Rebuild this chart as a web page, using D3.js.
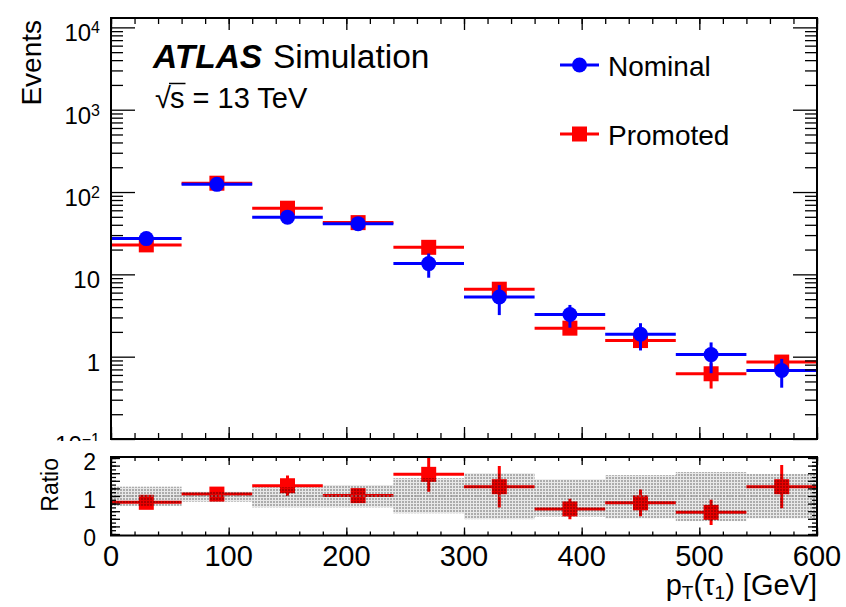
<!DOCTYPE html>
<html><head><meta charset="utf-8">
<script src="https://cdn.jsdelivr.net/npm/d3@7"></script>
<style>body{margin:0;background:#fff}text{font-family:"Liberation Sans",Arial,Helvetica,sans-serif;fill:#000}</style>
</head><body><svg id="c" width="846" height="607"></svg>
<script>
// ---------- data ----------
const binCenters = [30, 90, 150, 210, 270, 330, 390, 450, 510, 570];
const binHalfWidth = [30, 30, 30, 30, 30, 30, 30, 30, 30, 30];
const nominal    = [27.2, 124, 49.5, 41.3, 13.5, 5.3, 3.25, 1.87, 1.06, 0.68];
const nominalErr = [2.0, 6.0, 3.5, 3.5, 4.4, 2.1, 1.0, 0.68, 0.43, 0.26];
const promoted    = [22.8, 128, 63.6, 42.5, 21.3, 6.6, 2.22, 1.57, 0.62, 0.86];
const promotedErr = [1.5, 5.0, 4.0, 3.0, 2.0, 0.8, 0.2, 0.25, 0.21, 0.1];
const ratio    = [0.834, 1.05, 1.27, 1.01, 1.57, 1.245, 0.66, 0.82, 0.57, 1.245];
const ratioErr = [0.10, 0.05, 0.27, 0.12, 0.46, 0.545, 0.27, 0.35, 0.33, 0.57];
const bandLow  = [0.74, 0.85, 0.70, 0.70, 0.545, 0.39, 0.455, 0.41, 0.34, 0.41];
const bandHigh = [1.245, 1.11, 1.23, 1.29, 1.47, 1.60, 1.44, 1.55, 1.63, 1.58];
const xTickValues = [0, 100, 200, 300, 400, 500, 600];
const xTickLabels = ["0", "100", "200", "300", "400", "500", "600"];
const yMainTicks = [0.1, 1, 10, 100, 1000, 10000];
const yMainTickLabels = [["10", "\u22121"], ["1", ""], ["10", ""], ["10", "2"], ["10", "3"], ["10", "4"]];
const yRatioTicks = [0, 1, 2];
const yRatioTickLabels = ["0", "1", "2"];
const legendLabels = ["Nominal", "Promoted"];

// ---------- layout ----------
const mx0 = 111, mx1 = 817, myTop = 18, myBot = 439;
const ry0 = 457, ry1 = 535.5;
const RED = "#ff0000", BLUE = "#0000ff";

const svg = d3.select("#c");
svg.append("rect").attr("width", 846).attr("height", 607).attr("fill", "#fff");
const defs = svg.append("defs");
defs.append("clipPath").attr("id", "clipMain").append("rect")
  .attr("x", mx0).attr("y", myTop).attr("width", mx1 - mx0).attr("height", myBot - myTop);
defs.append("clipPath").attr("id", "clipRatio").append("rect")
  .attr("x", mx0).attr("y", ry0).attr("width", mx1 - mx0).attr("height", ry1 - ry0);
const pat = defs.append("pattern").attr("id", "hatch").attr("patternUnits", "userSpaceOnUse")
  .attr("width", 3).attr("height", 3);
pat.append("rect").attr("width", 3).attr("height", 3).attr("fill", "rgba(0,0,0,0.09)");
pat.append("rect").attr("width", 2).attr("height", 2).attr("fill", "rgba(0,0,0,0.26)");

const x = d3.scaleLinear().domain([0, 600]).range([mx0, mx1]);
const y = d3.scaleLog().domain([0.1, 13000]).range([myBot, myTop]);
const yr = d3.scaleLinear().domain([0, 2]).range([534, 458]);

function drawPoints(g, ys, vals, errs, color, marker) {
  const grp = g.append("g");
  vals.forEach((v, i) => {
    const c = binCenters[i], hw = binHalfWidth[i];
    grp.append("line").attr("x1", x(c - hw)).attr("x2", x(c + hw))
      .attr("y1", ys(v)).attr("y2", ys(v)).attr("stroke", color).attr("stroke-width", 3);
    grp.append("line").attr("x1", x(c)).attr("x2", x(c))
      .attr("y1", ys(Math.max(v - errs[i], 1e-3))).attr("y2", ys(v + errs[i]))
      .attr("stroke", color).attr("stroke-width", 3);
    if (marker === "circle") {
      grp.append("circle").attr("cx", x(c)).attr("cy", ys(v)).attr("r", 7.5).attr("fill", color);
    } else {
      grp.append("rect").attr("x", x(c) - 7.5).attr("y", ys(v) - 7.5)
        .attr("width", 15).attr("height", 15).attr("fill", color);
    }
  });
}

// ---------- main panel ----------
const gMain = svg.append("g").attr("clip-path", "url(#clipMain)");
drawPoints(gMain, y, promoted, promotedErr, RED, "square");
drawPoints(gMain, y, nominal, nominalErr, BLUE, "circle");

function styleAxis(sel) {
  sel.select(".domain").remove();
  sel.selectAll(".tick line").attr("stroke", "#000").attr("stroke-width", 1.3);
  sel.selectAll(".tick text").remove();
}
const minorX = d3.range(0, 601, 20);
svg.append("g").attr("transform", `translate(0,${myBot})`)
  .call(d3.axisBottom(x).tickValues(minorX).tickSize(-6).tickFormat("")).call(styleAxis);
svg.append("g").attr("transform", `translate(0,${myBot})`)
  .call(d3.axisBottom(x).tickValues(xTickValues).tickSize(-12).tickFormat("")).call(styleAxis);
svg.append("g").attr("transform", `translate(0,${myTop})`)
  .call(d3.axisTop(x).tickValues(minorX).tickSize(-6).tickFormat("")).call(styleAxis);
svg.append("g").attr("transform", `translate(0,${myTop})`)
  .call(d3.axisTop(x).tickValues(xTickValues).tickSize(-12).tickFormat("")).call(styleAxis);

const minorY = [];
for (let d = -1; d <= 4; d++) for (let k = 2; k <= 9; k++) {
  const v = k * Math.pow(10, d); if (v < 13000) minorY.push(v);
}
[[mx0, d3.axisLeft], [mx1, d3.axisRight]].forEach(([px, ax]) => {
  svg.append("g").attr("transform", `translate(${px},0)`)
    .call(ax(y).tickValues(minorY).tickSize(-12).tickFormat("")).call(styleAxis);
  svg.append("g").attr("transform", `translate(${px},0)`)
    .call(ax(y).tickValues(yMainTicks).tickSize(-24).tickFormat("")).call(styleAxis);
});

// y tick labels (main)
yMainTicks.forEach((v, i) => {
  const t = svg.append("text").attr("x", 100).attr("y", y(v) + 14)
    .attr("text-anchor", "end").attr("font-size", 24);
  t.append("tspan").text(yMainTickLabels[i][0]);
  if (yMainTickLabels[i][1]) {
    t.append("tspan").attr("dy", -8).attr("font-size", 16).text(yMainTickLabels[i][1]);
  }
});

svg.append("rect").attr("x", mx0).attr("y", myTop).attr("width", mx1 - mx0).attr("height", myBot - myTop)
  .attr("fill", "none").attr("stroke", "#000").attr("stroke-width", 2);

// Texts
svg.append("text").attr("transform", "translate(41,20) rotate(-90)").attr("text-anchor", "end")
  .attr("font-size", 28).text("Events");
svg.append("text").attr("x", 153).attr("y", 68).attr("font-size", 33.5)
  .attr("font-weight", "bold").attr("font-style", "italic").text("ATLAS");
svg.append("text").attr("x", 273).attr("y", 68).attr("font-size", 33.5).text("Simulation");
const sq = svg.append("text").attr("x", 155).attr("y", 108).attr("font-size", 29).text("\u221A");
const sqBox = sq.node().getBBox();
const sText = svg.append("text").attr("x", 155 + sqBox.width - 1).attr("y", 108).attr("font-size", 29);
sText.append("tspan").text("s");
sText.append("tspan").text(" = 13 TeV");
const sW = sText.select("tspan").node().getComputedTextLength();
svg.append("line").attr("x1", 155 + sqBox.width - 2).attr("x2", 155 + sqBox.width + sW)
  .attr("y1", sqBox.y + 1.5).attr("y2", sqBox.y + 1.5).attr("stroke", "#000").attr("stroke-width", 1.5);

// Legend
const legY = [65, 134];
[[BLUE, "circle"], [RED, "square"]].forEach(([col, m], i) => {
  svg.append("line").attr("x1", 560).attr("x2", 599).attr("y1", legY[i]).attr("y2", legY[i])
    .attr("stroke", col).attr("stroke-width", 3);
  if (m === "circle") svg.append("circle").attr("cx", 579.5).attr("cy", legY[i]).attr("r", 7.5).attr("fill", col);
  else svg.append("rect").attr("x", 572).attr("y", legY[i] - 7.5).attr("width", 15).attr("height", 15).attr("fill", col);
  svg.append("text").attr("x", 608).attr("y", legY[i] + 11).attr("font-size", 28).text(legendLabels[i]);
});

// ---------- ratio panel ----------
svg.append("rect").attr("x", 0).attr("y", 441).attr("width", 846).attr("height", 166).attr("fill", "#fff");
const gR = svg.append("g").attr("clip-path", "url(#clipRatio)");
drawPoints(gR, yr, ratio, ratioErr, RED, "square");
binCenters.forEach((c, i) => {
  gR.append("rect").attr("x", x(c - binHalfWidth[i])).attr("width", x(c + binHalfWidth[i]) - x(c - binHalfWidth[i]))
    .attr("y", yr(bandHigh[i])).attr("height", yr(bandLow[i]) - yr(bandHigh[i])).attr("fill", "url(#hatch)");
});
gR.append("line").attr("x1", mx0).attr("x2", mx1).attr("y1", yr(1)).attr("y2", yr(1))
  .attr("stroke", "#888").attr("stroke-width", 1).attr("stroke-dasharray", "2,2");

svg.append("g").attr("transform", `translate(0,${ry1})`)
  .call(d3.axisBottom(x).tickValues(minorX).tickSize(-4).tickFormat("")).call(styleAxis);
svg.append("g").attr("transform", `translate(0,${ry1})`)
  .call(d3.axisBottom(x).tickValues(xTickValues).tickSize(-8).tickFormat("")).call(styleAxis);
svg.append("g").attr("transform", `translate(0,${ry0})`)
  .call(d3.axisTop(x).tickValues(minorX).tickSize(-4).tickFormat("")).call(styleAxis);
svg.append("g").attr("transform", `translate(0,${ry0})`)
  .call(d3.axisTop(x).tickValues(xTickValues).tickSize(-8).tickFormat("")).call(styleAxis);
const rMinor = d3.range(0, 2.001, 0.1), rMid = d3.range(0, 2.001, 0.2);
[[mx0, d3.axisLeft], [mx1, d3.axisRight]].forEach(([px, ax]) => {
  svg.append("g").attr("transform", `translate(${px},0)`)
    .call(ax(yr).tickValues(rMinor).tickSize(-5).tickFormat("")).call(styleAxis);
  svg.append("g").attr("transform", `translate(${px},0)`)
    .call(ax(yr).tickValues(rMid).tickSize(-9).tickFormat("")).call(styleAxis);
});
svg.append("rect").attr("x", mx0).attr("y", ry0).attr("width", mx1 - mx0).attr("height", ry1 - ry0)
  .attr("fill", "none").attr("stroke", "#000").attr("stroke-width", 2);

yRatioTicks.forEach((v, i) => {
  svg.append("text").attr("x", 96).attr("y", yr(v) + 12).attr("text-anchor", "end")
    .attr("font-size", 23).text(yRatioTickLabels[i]);
});
xTickValues.forEach((v, i) => {
  svg.append("text").attr("x", x(v)).attr("y", 566).attr("text-anchor", "middle")
    .attr("font-size", 29).text(xTickLabels[i]);
});
svg.append("text").attr("transform", "translate(58,458) rotate(-90)").attr("text-anchor", "end")
  .attr("font-size", 23).text("Ratio");

const xt = svg.append("text").attr("x", 817).attr("y", 595).attr("text-anchor", "end").attr("font-size", 29);
xt.append("tspan").text("p");
xt.append("tspan").attr("font-size", 19).attr("dy", 4).text("T");
xt.append("tspan").attr("dy", -4).text("(\u03C4");
xt.append("tspan").attr("font-size", 19).attr("dy", 4).text("1");
xt.append("tspan").attr("dy", -4).text(") [GeV]");
</script></body></html>
